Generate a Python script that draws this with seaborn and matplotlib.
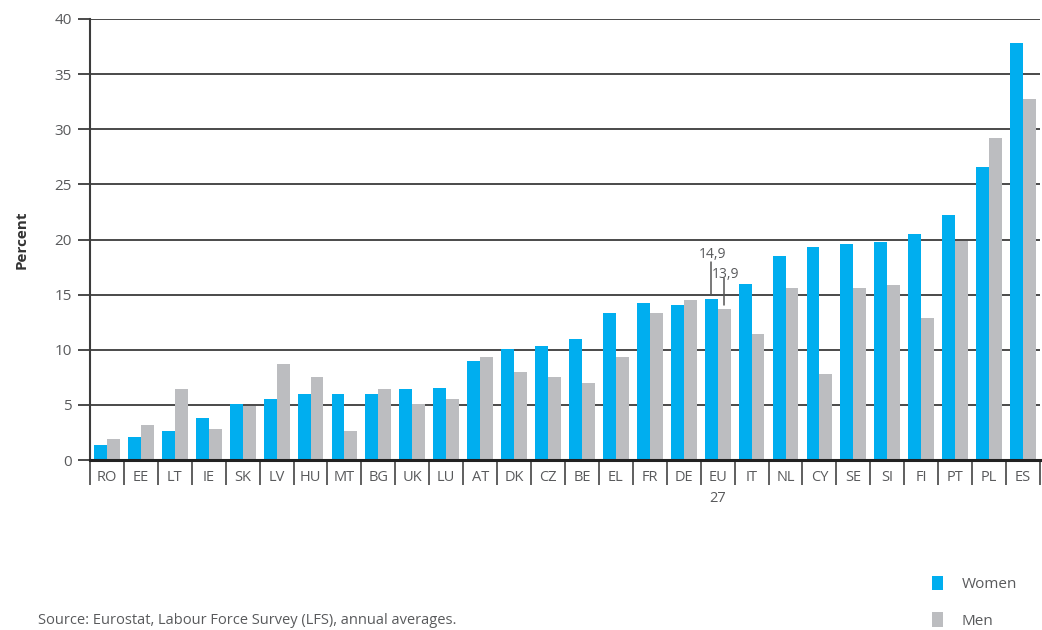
import matplotlib
matplotlib.use("Agg")
import matplotlib.pyplot as plt
import matplotlib.transforms as mtransforms
import seaborn as sns
import pandas as pd

countries = ["RO", "EE", "LT", "IE", "SK", "LV", "HU", "MT", "BG", "UK", "LU", "AT", "DK", "CZ",
             "BE", "EL", "FR", "DE", "EU\n27", "IT", "NL", "CY", "SE", "SI", "FI", "PT", "PL", "ES"]
women = [1.4, 2.1, 2.6, 3.8, 5.1, 5.5, 6.0, 6.0, 6.0, 6.4, 6.5, 9.0, 10.1, 10.3,
         11.0, 13.3, 14.2, 14.1, 14.6, 16.0, 18.5, 19.3, 19.6, 19.8, 20.5, 22.2, 26.6, 37.8]
men = [1.9, 3.2, 6.4, 2.8, 4.9, 8.7, 7.5, 2.6, 6.4, 5.1, 5.5, 9.3, 8.0, 7.5,
       7.0, 9.3, 13.3, 14.5, 13.7, 11.4, 15.6, 7.8, 15.6, 15.9, 12.9, 19.9, 29.2, 32.7]
series = ["Women", "Men"]
eu_labels = ["14,9", "13,9"]
yticks = [0, 5, 10, 15, 20, 25, 30, 35, 40]

BLUE = "#00AEEF"
GREY = "#BCBDC0"
TXT = "#595A5C"

df = pd.DataFrame({
    "country": countries * 2,
    "value": women + men,
    "sex": [series[0]] * len(countries) + [series[1]] * len(countries),
})

sns.set_theme(style="white")
plt.rcParams["font.family"] = ["Open Sans", "DejaVu Sans"]

fig = plt.figure(figsize=(10.42, 6.30), dpi=100)
ax = fig.add_axes([90 / 1042, 1 - 460 / 630, 950 / 1042, 441 / 630])

sns.barplot(data=df, x="country", y="value", hue="sex", hue_order=series,
            palette=[BLUE, GREY], width=0.76, ax=ax, saturation=1, linewidth=0,
            zorder=3)

ax.set_ylim(0, 40)
ax.set_xlim(-0.5, len(countries) - 0.5)
ax.set_yticks(yticks)
ax.yaxis.grid(True, color="#3C3C3C", linewidth=1.3, zorder=0)
ax.xaxis.grid(False)
ax.set_axisbelow(True)

for s in ["top", "right"]:
    ax.spines[s].set_visible(False)
ax.spines["left"].set_color("#3C3C3C")
ax.spines["left"].set_linewidth(1.5)
ax.spines["bottom"].set_color("#222222")
ax.spines["bottom"].set_linewidth(2.2)
ax.spines["bottom"].set_zorder(5)

ax.tick_params(axis="y", which="both", left=True, length=9, width=1.3, color="#3C3C3C",
               labelsize=11, labelcolor=TXT, pad=4)
ax.tick_params(axis="x", bottom=False, labelsize=10.5, labelcolor=TXT, pad=1)
for lbl in ax.get_xticklabels():
    lbl.set_linespacing(1.55)
    lbl.set_va("top")

ax.set_xlabel("")
ax.set_ylabel("Percent", fontsize=11, fontweight="bold", color="#333333", labelpad=19)

# category separators below the axis
trans = mtransforms.blended_transform_factory(ax.transData, ax.transAxes)
seps = [i - 0.5 for i in range(len(countries) + 1)]
ax.vlines(seps, -0.057, 0, transform=trans, colors="#444444", linewidth=1.2, clip_on=False)

# EU-27 annotations
bars = [p for p in ax.patches if p.get_height() > 0]
n = len(countries)
eu_idx = countries.index("EU\n27")
eu_bars = [bars[eu_idx], bars[n + eu_idx]]
tops = [(15.1, 17.95, 18.6), (14.1, 16.5, 16.85)]
for b, lab, (y0, y1, yt) in zip(eu_bars, eu_labels, tops):
    xc = b.get_x() + b.get_width() / 2
    ax.plot([xc, xc], [y0, y1], color="#555555", linewidth=1.1, zorder=4)
    ax.text(xc + 0.03, yt, lab, ha="center", va="center", fontsize=10, color=TXT, zorder=4)

# legend
handles, labels = ax.get_legend_handles_labels()
if ax.get_legend() is not None:
    ax.get_legend().remove()
fig.legend(handles, labels, loc="upper left", bbox_to_anchor=(918 / 1042, 1 - 562 / 630),
           frameon=False, fontsize=11, handlelength=0.75, handleheight=1.1,
           labelspacing=1.3, handletextpad=1.2, labelcolor=TXT)

fig.text(38 / 1042, 1 - 620 / 630, "Source: Eurostat, Labour Force Survey (LFS), annual averages.",
         fontsize=10.5, color=TXT, va="center", ha="left")

fig.savefig("out.png", dpi=100)
